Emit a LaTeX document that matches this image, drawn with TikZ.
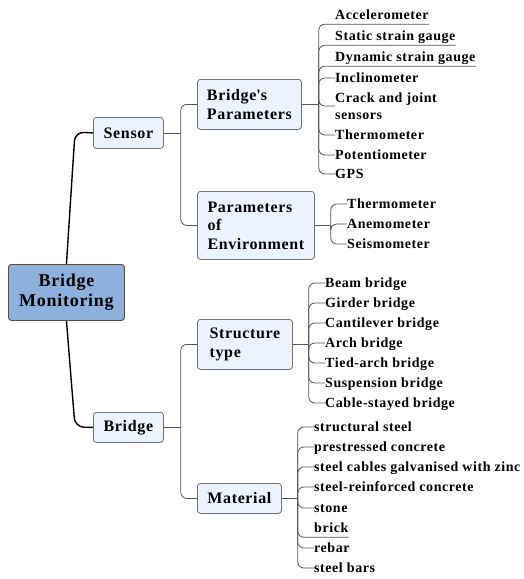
\documentclass[tikz,border=0pt]{standalone}
\usepackage{fontspec}
\setmainfont{Liberation Serif}[LetterSpace=4]
\definecolor{boxfill}{HTML}{EBF4FE}
\definecolor{boxline}{HTML}{707070}
\definecolor{rootfill}{HTML}{8DB0DC}
\definecolor{rootline}{HTML}{4D4D4D}
\definecolor{linegray}{HTML}{555555}
\begin{document}
\begin{tikzpicture}[x=1pt,y=-1pt,
  box/.style={draw=boxline, fill=boxfill, rounded corners=3pt, line width=0.8pt,
    font=\bfseries\fontsize{16}{18.5}\selectfont, align=left, inner sep=0pt, anchor=north west},
  rootbox/.style={draw=rootline, fill=rootfill, rounded corners=3pt, line width=0.9pt,
    font=\bfseries\fontsize{18}{20}\selectfont, align=center, inner sep=0pt, anchor=north west},
  leaf/.style={font=\bfseries\fontsize{14}{17}\selectfont, inner sep=0pt, anchor=west, text height=9pt, text depth=0pt},
  uleaf/.style={leaf, inner ysep=4.5pt},
  leafm/.style={font=\bfseries\fontsize{14}{17}\selectfont, inner sep=0pt, anchor=west, align=left},
  conn/.style={draw=linegray, line width=0.8pt, rounded corners=6pt},
  rootconn/.style={draw=black, line width=1.4pt, rounded corners=9pt}]
\useasboundingbox (0,0) rectangle (524,579);

% main boxes
\node[rootbox, minimum width=116pt, minimum height=56pt] (R) at (8,264) {Bridge\\Monitoring};
\node[box, minimum width=70pt, minimum height=31pt, align=center] (S) at (93,117) {Sensor};
\node[box, minimum width=70pt, minimum height=30pt, align=center] (B) at (93,412) {Bridge};
\node[box, minimum width=104pt, minimum height=50pt] (BP) at (197,79) {Bridge\textquotesingle s\\Parameters};
\node[box, minimum width=117pt, minimum height=68pt] (PE) at (197,191) {Parameters\\of\\Environment};
\node[box, minimum width=95pt, minimum height=50pt] (ST) at (197,319) {Structure\\type};
\node[box, minimum width=84pt, minimum height=30pt, align=center] (M) at (197,483) {Material};

% root connectors
\coordinate (rS) at (75,132);
\coordinate (rB) at (75,427);
\draw[rootconn] (R.north) -- (rS) -- (S.west);
\draw[rootconn] (R.south) -- (rB) -- (B.west);

% sensor bracket
\coordinate (bS) at ([xshift=17pt]S.east);
\draw[conn] (S.east) -- (bS);
\draw[conn] (bS) |- (BP.west);
\draw[conn] (bS) |- (PE.west);

% bridge bracket
\coordinate (bB) at ([xshift=17pt]B.east);
\draw[conn] (B.east) -- (bB);
\draw[conn] (bB) |- (ST.west);
\draw[conn] (bB) |- (M.west);

% Bridge's Parameters leaves
\node[uleaf] (a1) at (335,15) {Accelerometer};
\node[uleaf] (a2) at (335,36) {Static strain gauge};
\node[uleaf] (a3) at (335,57) {Dynamic strain gauge};
\node[leaf] (a4) at (335,78) {Inclinometer};
\node[leafm] (a5) at (335,106) {Crack and joint\\sensors};
\node[leaf] (a6) at (335,135) {Thermometer};
\node[leaf] (a7) at (335,155) {Potentiometer};
\node[leaf] (a8) at (335,174) {GPS};
\coordinate (bA) at ([xshift=17pt]BP.east);
\draw[conn] (BP.east) -- (bA);
\foreach \n in {a1,a2,a3} \draw[conn] (bA) |- (\n.south west) -- (\n.south east);
\foreach \n in {a4,a5,a6,a7,a8} \draw[conn] (bA) |- (\n.west);

% Environment leaves
\node[leaf] (e1) at (347,204) {Thermometer};
\node[leaf] (e2) at (347,224) {Anemometer};
\node[leaf] (e3) at (347,244) {Seismometer};
\coordinate (bE) at ([xshift=16pt]PE.east);
\draw[conn] (PE.east) -- (bE);
\foreach \n in {e1,e2,e3} \draw[conn] (bE) |- (\n.west);

% Structure type leaves
\node[leaf] (t1) at (325,283) {Beam bridge};
\node[leaf] (t2) at (325,303) {Girder bridge};
\node[leaf] (t3) at (325,323) {Cantilever bridge};
\node[leaf] (t4) at (325,343) {Arch bridge};
\node[leaf] (t5) at (325,363) {Tied-arch bridge};
\node[leaf] (t6) at (325,383) {Suspension bridge};
\node[leaf] (t7) at (325,403) {Cable-stayed bridge};
\coordinate (bT) at ([xshift=16pt]ST.east);
\draw[conn] (ST.east) -- (bT);
\foreach \n in {t1,t2,t3,t4,t5,t6,t7} \draw[conn] (bT) |- (\n.west);

% Material leaves
\node[leaf] (m1) at (314,427) {structural steel};
\node[leaf] (m2) at (314,447) {prestressed concrete};
\node[leaf] (m3) at (314,467) {steel cables galvanised with zinc};
\node[leaf] (m4) at (314,487) {steel-reinforced concrete};
\node[leaf] (m5) at (314,508) {stone};
\node[uleaf] (m6) at (314,528) {brick};
\node[leaf] (m7) at (314,548) {rebar};
\node[leaf] (m8) at (314,568) {steel bars};
\coordinate (bM) at ([xshift=16pt]M.east);
\draw[conn] (M.east) -- (bM);
\foreach \n in {m1,m2,m3,m4,m5,m7,m8} \draw[conn] (bM) |- (\n.west);
\draw[conn] (bM) |- (m6.south west) -- (m6.south east);
\end{tikzpicture}
\end{document}
